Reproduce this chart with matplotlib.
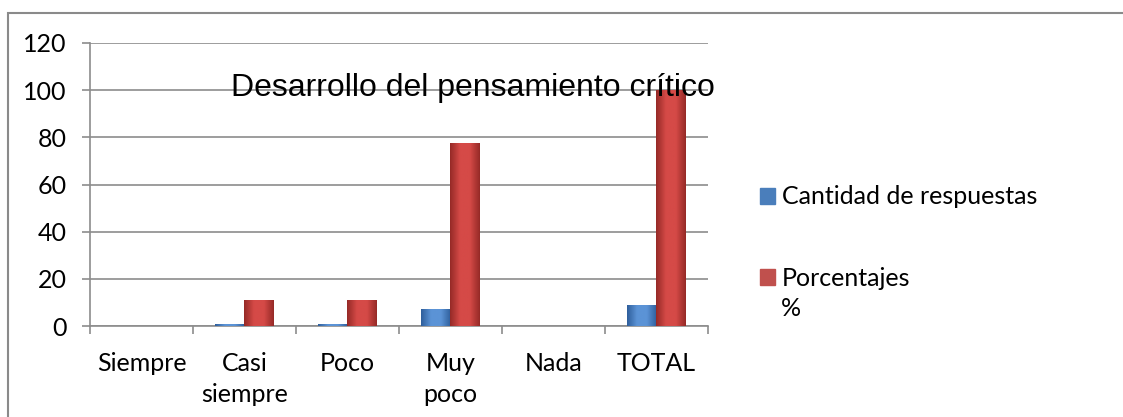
import numpy as np
import matplotlib.pyplot as plt
from matplotlib.patches import Rectangle
from matplotlib.colors import LinearSegmentedColormap

# Data
categorias = ['Siempre', 'Casi\nsiempre', 'Poco', 'Muy\npoco', 'Nada', 'TOTAL']
cantidad = [0, 1, 1, 7, 0, 9]
porcentajes = [0, 11.11, 11.11, 77.78, 0, 100]
titulo = 'Desarrollo del pensamiento crítico'
series = ['Cantidad de respuestas', 'Porcentajes']

label_font = ['Lato', 'DejaVu Sans']
grey = '#8c8c8c'
fs = 18

fig = plt.figure(figsize=(11.23, 4.17), dpi=100)
ax = fig.add_axes([90 / 1123, 1 - 326 / 417, 618 / 1123, 283 / 417])

x = np.arange(len(categorias))
w = 0.29
b1 = ax.bar(x - w / 2, cantidad, w, color='#4a7ebb', zorder=3)
b2 = ax.bar(x + w / 2, porcentajes, w, color='#c0504d', zorder=3)

# fake Excel bevel: darker edges, lighter middle
def shade(bars, dark, light):
    cmap = LinearSegmentedColormap.from_list('s', [dark, light, light, dark])
    grad = np.linspace(0, 1, 64).reshape(1, -1)
    for r in bars:
        if r.get_height() <= 0:
            continue
        x0, y0 = r.get_x(), r.get_y()
        im = ax.imshow(grad, cmap=cmap, aspect='auto', zorder=4,
                       extent=[x0, x0 + r.get_width(), y0, y0 + r.get_height()])
        im.set_clip_path(r)

shade(b1, '#2f5f9c', '#5b93d6')
shade(b2, '#962a27', '#d54a47')

ax.set_xlim(-0.5, len(categorias) - 0.5)
ax.set_ylim(0, 120)
ax.set_yticks(np.arange(0, 121, 20))
ax.set_xticks(x)
ax.set_xticklabels(categorias, family=label_font, fontsize=fs, linespacing=1.4)
ax.set_xticks(np.arange(-0.5, len(categorias)), minor=True)
ax.tick_params(axis='x', which='major', length=0, pad=19)
ax.tick_params(axis='x', which='minor', length=6, color=grey, width=1.2)
ax.tick_params(axis='y', length=6, color=grey, width=1.2, pad=11, labelsize=fs)
for t in ax.get_yticklabels():
    t.set_family(label_font)

ax.grid(axis='y', color=grey, linewidth=1.2, zorder=0)
ax.set_axisbelow(True)
for s in ['top', 'right']:
    ax.spines[s].set_visible(False)
for s in ['left', 'bottom']:
    ax.spines[s].set_color(grey)
    ax.spines[s].set_linewidth(1.2)

fig.text(473 / 1123, 1 - 88 / 417, titulo, ha='center', va='center',
         family=['Liberation Sans', 'DejaVu Sans'], fontsize=23, zorder=10)

handles = [Rectangle((0, 0), 1, 1, color='#4a7ebb'), Rectangle((0, 0), 1, 1, color='#c0504d')]
leg = fig.legend(handles, series, loc='upper left', bbox_to_anchor=(747 / 1123, 1 - 173 / 417),
                 frameon=False, handlelength=0.6, handleheight=0.6, handletextpad=0.3,
                 labelspacing=2.33, borderpad=0, prop={'family': label_font, 'size': fs})
# second line of the "Porcentajes %" label
fig.text(781 / 1123, 1 - 308 / 417, '%', ha='left', va='center',
         family=label_font, fontsize=fs)

# chart area border
fig.patches.append(Rectangle((7.5 / 1123, -0.1), 1.2, 1 - 13.5 / 417 + 0.1,
                             transform=fig.transFigure, fill=False,
                             edgecolor='#8a8a8a', linewidth=1.5))

fig.savefig('out.png', dpi=100)
